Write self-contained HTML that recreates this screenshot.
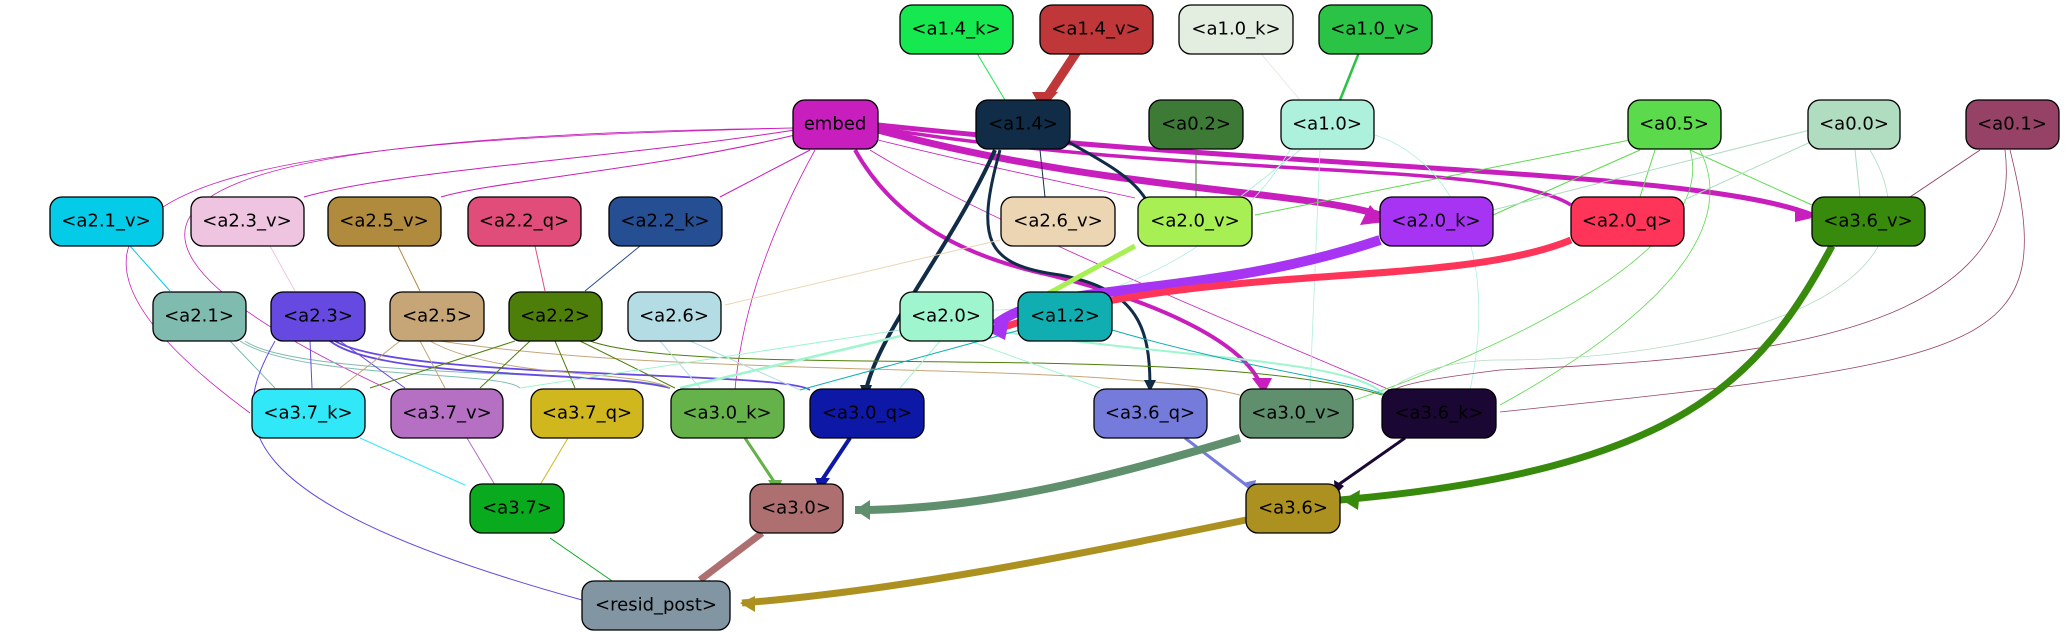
<!DOCTYPE html>
<html><head><meta charset="utf-8"><style>
html,body{margin:0;padding:0;background:#fff;width:2066px;height:635px;overflow:hidden}
svg{display:block}
text{font-family:"DejaVu Sans","Liberation Sans",sans-serif;font-size:18px;text-anchor:middle;dominant-baseline:central;fill:#000}
.n{stroke:#000;stroke-width:1.3}
</style></head><body>
<svg width="2066" height="635" viewBox="0 0 2066 635" xmlns="http://www.w3.org/2000/svg">
<g fill="none">
<path d="M975,50 L1005,100" stroke="#16e84f" stroke-width="1"/>
<path d="M1078,50 L1045,100" stroke="#c0373a" stroke-width="9"/>
<path d="M1258,50 L1300,100" stroke="#e3eee0" stroke-width="1"/>
<path d="M1360,50 L1340,100" stroke="#2ac345" stroke-width="2.5"/>
<path d="M878,130 C1100,190 1300,190 1380,215" stroke="#c81ebd" stroke-width="7"/>
<path d="M878,128 C1200,180 1500,160 1571,205" stroke="#c81ebd" stroke-width="3.5"/>
<path d="M878,125 C1300,170 1700,170 1812,215" stroke="#c81ebd" stroke-width="5"/>
<path d="M855,150 C900,230 980,260 1050,275 C1150,300 1245,340 1262,388" stroke="#c81ebd" stroke-width="4"/>
<path d="M795,130 C600,160 400,170 304,197" stroke="#c81ebd" stroke-width="1"/>
<path d="M795,135 C650,170 500,180 441,197" stroke="#c81ebd" stroke-width="1"/>
<path d="M810,150 L720,197" stroke="#c81ebd" stroke-width="1"/>
<path d="M815,150 C760,250 740,330 735,390" stroke="#c81ebd" stroke-width="0.8"/>
<path d="M795,128 C300,140 -80,170 250,413" stroke="#c81ebd" stroke-width="0.8"/>
<path d="M795,128 C300,135 -60,180 390,390" stroke="#c81ebd" stroke-width="0.8"/>
<path d="M870,150 C1000,230 1300,350 1390,390" stroke="#c81ebd" stroke-width="0.8"/>
<path d="M878,140 C1000,170 1100,190 1135,198" stroke="#c81ebd" stroke-width="0.8"/>
<path d="M995,150 C950,250 880,330 866,390" stroke="#112c47" stroke-width="4"/>
<path d="M1000,150 C975,240 985,265 1060,275 C1140,290 1150,330 1150,388" stroke="#112c47" stroke-width="3"/>
<path d="M1065,140 C1100,160 1130,175 1145,198" stroke="#112c47" stroke-width="3"/>
<path d="M1040,150 L1045,197" stroke="#112c47" stroke-width="1"/>
<path d="M1196,150 L1196,197" stroke="#3d7a35" stroke-width="1"/>
<path d="M1300,150 L1240,197" stroke="#adf0dc" stroke-width="1"/>
<path d="M1375,135 C1450,160 1500,250 1470,390" stroke="#adf0dc" stroke-width="0.8"/>
<path d="M1320,150 L1310,390" stroke="#adf0dc" stroke-width="0.8"/>
<path d="M1290,150 C1200,300 1000,330 900,300" stroke="#adf0dc" stroke-width="0.8"/>
<path d="M1630,140 L1255,215" stroke="#5bda4c" stroke-width="1"/>
<path d="M1640,150 L1493,215" stroke="#5bda4c" stroke-width="1"/>
<path d="M1655,150 L1640,197" stroke="#5bda4c" stroke-width="1"/>
<path d="M1690,150 L1812,205" stroke="#5bda4c" stroke-width="1"/>
<path d="M1700,150 C1750,250 1600,350 1500,405" stroke="#5bda4c" stroke-width="0.8"/>
<path d="M1690,150 C1720,250 1500,350 1355,400" stroke="#5bda4c" stroke-width="0.8"/>
<path d="M1810,130 L1493,210" stroke="#b0dcc0" stroke-width="1"/>
<path d="M1815,140 L1684,200" stroke="#b0dcc0" stroke-width="1"/>
<path d="M1855,150 L1860,197" stroke="#b0dcc0" stroke-width="1"/>
<path d="M1870,150 C1960,300 1700,360 1500,360 C1440,360 1400,380 1390,390" stroke="#b0dcc0" stroke-width="0.8"/>
<path d="M1980,150 L1910,197" stroke="#954266" stroke-width="1"/>
<path d="M2005,150 C2030,350 1700,360 1500,370 C1420,380 1400,385 1390,392" stroke="#954266" stroke-width="0.8"/>
<path d="M2010,150 C2060,350 2000,360 1500,412" stroke="#954266" stroke-width="0.8"/>
<path d="M130,246 L170,291" stroke="#04cbe8" stroke-width="1"/>
<path d="M270,246 L295,291" stroke="#efc4e0" stroke-width="1"/>
<path d="M398,246 L420,291" stroke="#b08b3e" stroke-width="1"/>
<path d="M535,246 L545,291" stroke="#e04d7a" stroke-width="1"/>
<path d="M640,246 L585,291" stroke="#264e92" stroke-width="1"/>
<path d="M1000,240 L725,305" stroke="#ecd5b3" stroke-width="1"/>
<path d="M1135,246 L1000,320" stroke="#a8ef53" stroke-width="5"/>
<path d="M1380,240 C1200,300 1050,280 995,325" stroke="#a734f2" stroke-width="10"/>
<path d="M1571,240 C1450,290 1200,260 995,330" stroke="#fe3558" stroke-width="7"/>
<path d="M1832,246 C1760,380 1680,470 1340,500" stroke="#378a0b" stroke-width="7"/>
<g stroke-width="1">
<path d="M230,341 L275,388" stroke="#80bbb0"/>
<path d="M240,341 C300,380 500,370 520,388" stroke="#80bbb0"/>
<path d="M245,341 C300,380 640,370 670,388" stroke="#80bbb0"/>
<path d="M310,341 L312,388" stroke="#6549e0"/>
<path d="M330,341 C380,380 600,370 670,388" stroke="#6549e0" stroke-width="1.8"/>
<path d="M335,341 C400,380 780,370 810,390" stroke="#6549e0" stroke-width="1.8"/>
<path d="M340,341 L405,388" stroke="#6549e0"/>
<path d="M275,341 C230,420 220,500 582,600" stroke="#6549e0"/>
<path d="M420,341 L445,388" stroke="#c6a577"/>
<path d="M430,341 C500,380 640,370 670,388" stroke="#c6a577"/>
<path d="M440,341 C700,380 1100,360 1240,395" stroke="#c6a577"/>
<path d="M400,341 L340,388" stroke="#c6a577"/>
<path d="M530,341 L480,388" stroke="#4e7e0a"/>
<path d="M555,341 L575,388" stroke="#4e7e0a"/>
<path d="M580,341 L675,388" stroke="#4e7e0a"/>
<path d="M590,341 C700,380 1200,340 1382,395" stroke="#4e7e0a"/>
<path d="M515,341 L370,388" stroke="#4e7e0a"/>
<path d="M660,341 L700,388" stroke="#b4dce4"/>
<path d="M690,341 L800,390" stroke="#b4dce4"/>
<path d="M900,330 L520,388" stroke="#9ef5ce"/>
<path d="M905,335 L680,388" stroke="#9ef5ce" stroke-width="2.5"/>
<path d="M940,341 L900,388" stroke="#9ef5ce"/>
<path d="M970,341 L1100,388" stroke="#9ef5ce"/>
<path d="M990,330 C1200,360 1350,360 1385,395" stroke="#9ef5ce" stroke-width="2"/>
<path d="M1020,330 L800,390" stroke="#10aeb0"/>
<path d="M1112,330 C1250,370 1350,380 1385,395" stroke="#10aeb0"/>
</g>
<path d="M360,438 L465,485" stroke="#31e8f9" stroke-width="1"/>
<path d="M467,438 L495,485" stroke="#b570c4" stroke-width="1"/>
<path d="M568,438 L540,485" stroke="#d0b71d" stroke-width="1"/>
<path d="M745,438 L775,483" stroke="#66b24a" stroke-width="3"/>
<path d="M850,438 L822,480" stroke="#0e18a7" stroke-width="4"/>
<path d="M1185,438 L1250,488" stroke="#757bdb" stroke-width="3"/>
<path d="M1240,438 C1100,480 980,510 855,510" stroke="#5f8f6c" stroke-width="8"/>
<path d="M1405,438 L1338,485" stroke="#1b0733" stroke-width="3"/>
<path d="M550,538 L615,583" stroke="#0aaa1e" stroke-width="1"/>
<path d="M762,533 L700,580" stroke="#ae6f70" stroke-width="7"/>
<path d="M1246,520 C1050,560 900,590 742,603" stroke="#ac9121" stroke-width="7"/>
</g>
<g>
<polygon points="1032,92 1058,92 1042,110" fill="#c0373a"/>
<polygon points="1370,205 1385,222 1360,225" fill="#c81ebd"/>
<polygon points="1795,208 1812,218 1795,222" fill="#c81ebd"/>
<polygon points="1252,378 1272,378 1264,394" fill="#c81ebd"/>
<polygon points="1010,315 985,330 1005,340" fill="#a734f2"/>
<polygon points="1342,500 1360,490 1358,510" fill="#378a0b"/>
<polygon points="860,385 872,385 866,400" fill="#112c47"/>
<polygon points="1144,380 1156,380 1150,392" fill="#112c47"/>
<polygon points="855,510 870,500 870,520" fill="#5f8f6c"/>
<polygon points="740,603 755,596 755,612" fill="#ac9121"/>
<polygon points="690,585 710,580 695,598" fill="#ae6f70"/>
<polygon points="815,478 830,478 820,492" fill="#0e18a7"/>
<polygon points="1243,483 1256,480 1253,495" fill="#757bdb"/>
<polygon points="1334,480 1344,486 1335,495" fill="#1b0733"/>
<polygon points="768,480 782,480 777,495" fill="#66b24a"/>
</g>
<g class="n">
<rect x="900" y="5" width="113" height="49" rx="12" fill="#16e84f"/>
<rect x="1040" y="5" width="113" height="49" rx="12" fill="#c0373a"/>
<rect x="1179" y="5" width="114" height="49" rx="12" fill="#e3eee0"/>
<rect x="1319" y="5" width="113" height="49" rx="12" fill="#2ac345"/>
<rect x="793" y="100" width="85" height="49" rx="12" fill="#c81ebd"/>
<rect x="976" y="100" width="94" height="49" rx="12" fill="#112c47"/>
<rect x="1149" y="100" width="94" height="49" rx="12" fill="#3d7a35"/>
<rect x="1281" y="100" width="93" height="49" rx="12" fill="#adf0dc"/>
<rect x="1628" y="100" width="93" height="49" rx="12" fill="#5bda4c"/>
<rect x="1808" y="100" width="92" height="49" rx="12" fill="#b0dcc0"/>
<rect x="1966" y="100" width="93" height="49" rx="12" fill="#954266"/>
<rect x="50" y="197" width="113" height="49" rx="12" fill="#04cbe8"/>
<rect x="191" y="197" width="113" height="49" rx="12" fill="#efc4e0"/>
<rect x="328" y="197" width="113" height="49" rx="12" fill="#b08b3e"/>
<rect x="468" y="197" width="113" height="49" rx="12" fill="#e04d7a"/>
<rect x="609" y="197" width="113" height="49" rx="12" fill="#264e92"/>
<rect x="1001" y="197" width="114" height="49" rx="12" fill="#ecd5b3"/>
<rect x="1138" y="197" width="114" height="49" rx="12" fill="#a8ef53"/>
<rect x="1380" y="197" width="113" height="49" rx="12" fill="#a734f2"/>
<rect x="1571" y="197" width="113" height="49" rx="12" fill="#fe3558"/>
<rect x="1812" y="197" width="113" height="49" rx="12" fill="#378a0b"/>
<rect x="153" y="292" width="93" height="49" rx="12" fill="#80bbb0"/>
<rect x="271" y="292" width="94" height="49" rx="12" fill="#6549e0"/>
<rect x="390" y="292" width="94" height="49" rx="12" fill="#c6a577"/>
<rect x="509" y="292" width="93" height="49" rx="12" fill="#4e7e0a"/>
<rect x="628" y="292" width="93" height="49" rx="12" fill="#b4dce4"/>
<rect x="900" y="292" width="93" height="49" rx="12" fill="#9ef5ce"/>
<rect x="1018" y="292" width="94" height="49" rx="12" fill="#10aeb0"/>
<rect x="252" y="389" width="113" height="49" rx="12" fill="#31e8f9"/>
<rect x="391" y="389" width="112" height="49" rx="12" fill="#b570c4"/>
<rect x="531" y="389" width="112" height="49" rx="12" fill="#d0b71d"/>
<rect x="671" y="389" width="113" height="49" rx="12" fill="#66b24a"/>
<rect x="810" y="389" width="114" height="49" rx="12" fill="#0e18a7"/>
<rect x="1094" y="389" width="113" height="49" rx="12" fill="#757bdb"/>
<rect x="1240" y="389" width="113" height="49" rx="12" fill="#5f8f6c"/>
<rect x="1382" y="389" width="114" height="49" rx="12" fill="#1b0733"/>
<rect x="470" y="484" width="94" height="49" rx="12" fill="#0aaa1e"/>
<rect x="750" y="484" width="93" height="49" rx="12" fill="#ae6f70"/>
<rect x="1246" y="484" width="94" height="49" rx="12" fill="#ac9121"/>
<rect x="582" y="581" width="148" height="49" rx="12" fill="#8295a2"/>
</g>
<g>
<text x="956" y="29">&lt;a1.4_k&gt;</text>
<text x="1096" y="29">&lt;a1.4_v&gt;</text>
<text x="1236" y="29">&lt;a1.0_k&gt;</text>
<text x="1375" y="29">&lt;a1.0_v&gt;</text>
<text x="835" y="124">embed</text>
<text x="1023" y="124">&lt;a1.4&gt;</text>
<text x="1196" y="124">&lt;a0.2&gt;</text>
<text x="1327" y="124">&lt;a1.0&gt;</text>
<text x="1674" y="124">&lt;a0.5&gt;</text>
<text x="1854" y="124">&lt;a0.0&gt;</text>
<text x="2012" y="124">&lt;a0.1&gt;</text>
<text x="106" y="221">&lt;a2.1_v&gt;</text>
<text x="247" y="221">&lt;a2.3_v&gt;</text>
<text x="384" y="221">&lt;a2.5_v&gt;</text>
<text x="524" y="221">&lt;a2.2_q&gt;</text>
<text x="665" y="221">&lt;a2.2_k&gt;</text>
<text x="1058" y="221">&lt;a2.6_v&gt;</text>
<text x="1195" y="221">&lt;a2.0_v&gt;</text>
<text x="1436" y="221">&lt;a2.0_k&gt;</text>
<text x="1627" y="221">&lt;a2.0_q&gt;</text>
<text x="1868" y="221">&lt;a3.6_v&gt;</text>
<text x="199" y="316">&lt;a2.1&gt;</text>
<text x="318" y="316">&lt;a2.3&gt;</text>
<text x="437" y="316">&lt;a2.5&gt;</text>
<text x="555" y="316">&lt;a2.2&gt;</text>
<text x="674" y="316">&lt;a2.6&gt;</text>
<text x="946" y="316">&lt;a2.0&gt;</text>
<text x="1065" y="316">&lt;a1.2&gt;</text>
<text x="308" y="413">&lt;a3.7_k&gt;</text>
<text x="447" y="413">&lt;a3.7_v&gt;</text>
<text x="587" y="413">&lt;a3.7_q&gt;</text>
<text x="727" y="413">&lt;a3.0_k&gt;</text>
<text x="867" y="413">&lt;a3.0_q&gt;</text>
<text x="1150" y="413">&lt;a3.6_q&gt;</text>
<text x="1296" y="413">&lt;a3.0_v&gt;</text>
<text x="1439" y="413">&lt;a3.6_k&gt;</text>
<text x="517" y="508">&lt;a3.7&gt;</text>
<text x="796" y="508">&lt;a3.0&gt;</text>
<text x="1293" y="508">&lt;a3.6&gt;</text>
<text x="656" y="605">&lt;resid_post&gt;</text>
</g>
</svg>
</body></html>
